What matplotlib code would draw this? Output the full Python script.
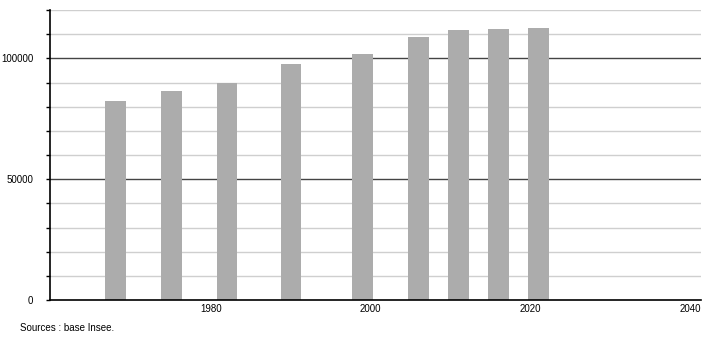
import matplotlib
matplotlib.use("Agg")
import matplotlib.pyplot as plt
from matplotlib.ticker import MultipleLocator

plt.rcParams["font.family"] = ["Liberation Sans", "DejaVu Sans"]

# recensements
years = [1968, 1975, 1982, 1990, 1999, 2006, 2011, 2016, 2021]
population = [82200, 86400, 90000, 97500, 101700, 108750, 111800, 112200, 112600]

y_ticks = [0, 50000, 100000]
x_ticks = [1980, 2000, 2020, 2040]

fig = plt.figure(figsize=(7.1, 3.4), dpi=100)
ax = fig.add_axes([50 / 710, 40 / 340, 651 / 710, 290 / 340])

ax.bar(years, population, width=2.6, color="#acacac", zorder=3)

ax.set_xlim(1959.8, 2041.4)
ax.set_ylim(0, 120000)

# grille : fine tous les 10000, foncée tous les 50000
for v in range(10000, 120001, 10000):
    if v % 50000 == 0:
        ax.axhline(v, color="#444444", lw=1.0, zorder=1)
    else:
        ax.axhline(v, color="#cfcfcf", lw=1.0, zorder=1)

ax.set_yticks(y_ticks)
ax.yaxis.set_minor_locator(MultipleLocator(10000))
ax.set_yticklabels([str(v) for v in y_ticks])
ax.set_xticks(x_ticks)
ax.set_xticklabels([str(v) for v in x_ticks])

ax.tick_params(axis="y", which="both", length=3, width=1, pad=9, labelsize=7, colors="black")
ax.tick_params(axis="x", length=0, pad=3, labelsize=7)

for s in ["top", "right"]:
    ax.spines[s].set_visible(False)
ax.spines["left"].set_linewidth(1.2)
ax.spines["bottom"].set_linewidth(1.2)
ax.spines["left"].set_zorder(4)
ax.spines["bottom"].set_zorder(4)

fig.text(20 / 710, 1 - 328 / 340, "Sources : base Insee.", fontsize=7, va="center", ha="left")

fig.savefig("out.png", dpi=100)
